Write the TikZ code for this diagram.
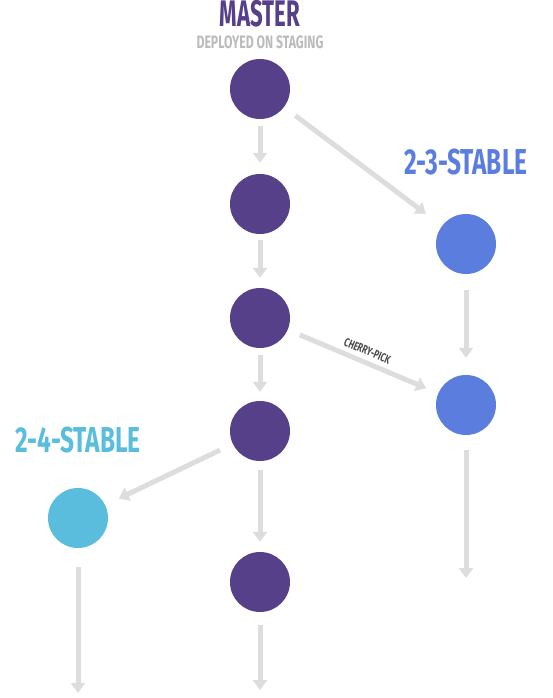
\documentclass[tikz,border=0pt]{standalone}
\usepackage{fontspec}
\newfontfamily\tagfont[FakeStretch=0.6]{Fira Sans}
\newfontfamily\widetagfont[FakeStretch=0.68]{Fira Sans}
\usepackage{xcolor}
\usepackage{tikz}
\usetikzlibrary{arrows.meta}
\definecolor{masterpurple}{HTML}{56408A}
\definecolor{stableblue}{HTML}{5B7EDE}
\definecolor{stablecyan}{HTML}{5BBDDD}
\definecolor{arrowgray}{HTML}{DDDDDD}
\definecolor{notegray}{HTML}{BBBBBB}

\begin{document}
\begin{tikzpicture}[x=1pt, y=-1pt,
    commit/.style={circle, minimum size=60pt, inner sep=0pt},
    flow/.style={draw=arrowgray, line width=5pt, -{Triangle[width=14pt, length=10pt]}},
    title/.style={font=\widetagfont\bfseries\fontsize{36}{36}\selectfont, inner sep=0pt}]
            \useasboundingbox (0, 0) rectangle (552, 698);
            % branch names
            \node[title, font=\tagfont\bfseries\fontsize{37}{37}\selectfont, text=masterpurple] (mastername) at (260, 14) {MASTER};
            \node[font=\widetagfont\bfseries\fontsize{18}{18}\selectfont, text=notegray, inner sep=0pt] (masternote) at (260, 42) {DEPLOYED ON STAGING};
            \node[title, text=stableblue] (name23) at (466, 162) {2-3-STABLE};
            \node[title, text=stablecyan] (name24) at (78, 440) {2-4-STABLE};
            % commits
            \node[commit, fill=masterpurple] (m1) at (260, 89) {};
            \node[commit, fill=masterpurple] (m2) at (260, 204) {};
            \node[commit, fill=masterpurple] (m3) at (260, 318) {};
            \node[commit, fill=masterpurple] (m4) at (260, 431) {};
            \node[commit, fill=masterpurple] (m5) at (260, 582) {};
            \node[commit, fill=stableblue] (s23a) at (466, 244) {};
            \node[commit, fill=stableblue] (s23b) at (466, 405) {};
            \node[commit, fill=stablecyan] (s24) at (78, 518) {};
            \coordinate (m5end) at (260, 690);
            \coordinate (s23end) at (466, 578);
            \coordinate (s24end) at (78, 693);
            % master line
            \draw[flow, shorten <=7pt, shorten >=11pt] (m1) -- (m2);
            \draw[flow, shorten <=6pt, shorten >=10pt] (m2) -- (m3);
            \draw[flow, shorten <=7pt, shorten >=9pt] (m3) -- (m4);
            \draw[flow, shorten <=9pt, shorten >=10pt] (m4) -- (m5);
            \draw[flow, shorten <=13pt] (m5) -- (m5end);
            % 2-3-stable
            \draw[flow, shorten <=14pt, shorten >=20pt] (m1) -- (s23a);
            \draw[flow, shorten <=16pt, shorten >=17pt] (s23a) -- (s23b);
            \draw[flow, shorten <=15pt] (s23b) -- (s23end);
            \draw[flow, shorten <=13pt, shorten >=13pt] (m3) -- (s23b)
                node[midway, above, sloped, inner sep=4.5pt, text=black!70, font=\widetagfont\bfseries\fontsize{12}{12}\selectfont] (pick) {CHERRY-PICK};
            % 2-4-stable
            \draw[flow, shorten <=14pt, shorten >=15pt] (m4) -- (s24);
            \draw[flow, shorten <=19pt] (s24) -- (s24end);
        \end{tikzpicture}
\end{document}
